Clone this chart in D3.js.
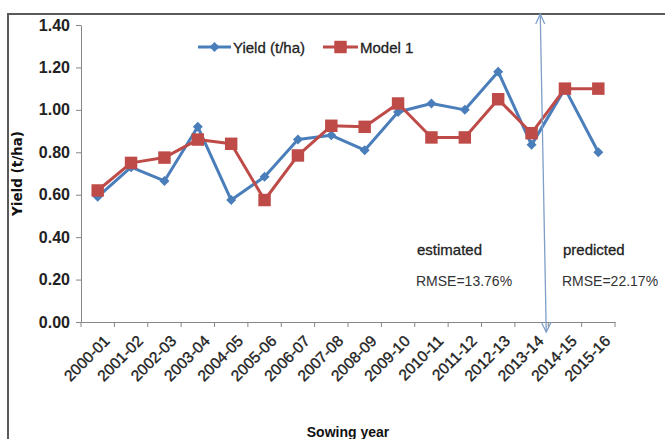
<!DOCTYPE html>
<html>
<head>
<meta charset="utf-8">
<script src="https://cdn.jsdelivr.net/npm/d3@7"></script>
<style>
  html, body { margin: 0; padding: 0; background: #ffffff; }
  svg { display: block; }
</style>
</head>
<body>
<script>
// ---- data ----
const categories = ["2000-01","2001-02","2002-03","2003-04","2004-05","2005-06","2006-07","2007-08",
                    "2008-09","2009-10","2010-11","2011-12","2012-13","2013-14","2014-15","2015-16"];
const yieldValues  = [0.59, 0.73, 0.665, 0.92, 0.575, 0.685, 0.86, 0.88, 0.81, 0.99, 1.03, 1.00, 1.18, 0.835, 1.10, 0.80];
const model1Values = [0.62, 0.75, 0.775, 0.86, 0.84, 0.575, 0.785, 0.925, 0.92, 1.03, 0.87, 0.87, 1.05, 0.89, 1.10, 1.10];
const yTickValues = [0, 0.2, 0.4, 0.6, 0.8, 1.0, 1.2, 1.4];
const seriesNames = ["Yield (t/ha)", "Model 1"];
const annotations = [
  { title: "estimated", rmse: "RMSE=13.76%" },
  { title: "predicted", rmse: "RMSE=22.17%" }
];
const splitAfter = "2013-14";

// ---- layout ----
const W = 665, H = 439;
const plot = { left: 81, right: 615, top: 25, bottom: 322 };
const blue = "#4a7ebb", red = "#be4b48", axisCol = "#868686";
const txtFont = "'Liberation Sans', Arial, sans-serif";

const svg = d3.select("body").append("svg").attr("width", W).attr("height", H);
svg.append("rect").attr("width", W).attr("height", H).attr("fill", "#fff");

// outer frame (top and left edges visible)
svg.append("path").attr("d", `M8,${H} V14 H${W}`).attr("fill", "none")
  .attr("stroke", "#5a5a5a").attr("stroke-width", 2);

const x = d3.scaleBand().domain(categories).range([plot.left, plot.right]).paddingInner(0).paddingOuter(0);
const y = d3.scaleLinear().domain([0, 1.4]).range([plot.bottom, plot.top]);
const cx = d => x(d) + x.bandwidth() / 2;

// y axis
const yAxis = d3.axisLeft(y).tickValues(yTickValues).tickFormat(d3.format(".2f"))
  .tickSizeInner(5).tickSizeOuter(0).tickPadding(6);
const gy = svg.append("g").attr("transform", `translate(${plot.left},0)`).call(yAxis);
gy.select(".domain").attr("stroke", axisCol);
gy.selectAll(".tick line").attr("stroke", axisCol);
gy.selectAll(".tick text").attr("font-family", txtFont).attr("font-size", 16)
  .attr("font-weight", "bold").attr("fill", "#222");

// x axis
const xAxis = d3.axisBottom(x).tickSize(0).tickFormat("");
const gx = svg.append("g").attr("transform", `translate(0,${plot.bottom})`).call(xAxis);
gx.select(".domain").attr("stroke", axisCol);
gx.selectAll(".tick").remove();
const boundaries = categories.map(c => x(c)).concat([x(categories[categories.length - 1]) + x.bandwidth()]);
gx.selectAll("line.bt").data(boundaries).join("line").attr("class", "bt")
  .attr("x1", d => d).attr("x2", d => d).attr("y1", 0).attr("y2", 5).attr("stroke", axisCol);
gx.selectAll("text.xl").data(categories).join("text").attr("class", "xl")
  .attr("transform", d => `translate(${cx(d) + 13},${20}) rotate(-45)`)
  .attr("text-anchor", "end")
  .attr("font-family", txtFont).attr("font-size", 15.5).attr("fill", "#222")
  .attr("stroke", "#222").attr("stroke-width", 0.35)
  .text(d => d);

// axis titles
svg.append("text").attr("transform", `translate(22,${(plot.top + plot.bottom) / 2}) rotate(-90)`)
  .attr("text-anchor", "middle").attr("font-family", "'DejaVu Sans', sans-serif")
  .attr("font-size", 13.5).attr("font-weight", "bold").attr("fill", "#111").text("Yield (t/ha)");
svg.append("text").attr("x", (plot.left + plot.right) / 2).attr("y", 437)
  .attr("text-anchor", "middle").attr("font-family", txtFont)
  .attr("font-size", 14).attr("font-weight", "bold").attr("fill", "#111").text("Sowing year");

// lines
const line = d3.line().x((d, i) => cx(categories[i])).y(d => y(d));
svg.append("path").datum(yieldValues).attr("d", line).attr("fill", "none")
  .attr("stroke", blue).attr("stroke-width", 3).attr("stroke-linejoin", "round");
svg.append("path").datum(model1Values).attr("d", line).attr("fill", "none")
  .attr("stroke", red).attr("stroke-width", 3).attr("stroke-linejoin", "round");

const diamond = d3.symbol().type(d3.symbolDiamond2).size(64);
const square = d3.symbol().type(d3.symbolSquare).size(155);

svg.append("g").selectAll("path").data(yieldValues).join("path")
  .attr("d", diamond).attr("transform", (d, i) => `translate(${cx(categories[i])},${y(d)})`)
  .attr("fill", blue);
svg.append("g").selectAll("path").data(model1Values).join("path")
  .attr("d", square).attr("transform", (d, i) => `translate(${cx(categories[i])},${y(d)})`)
  .attr("fill", red);

// legend
const legend = [
  { name: seriesNames[0], color: blue, sym: diamond, x0: 198, x1: 231, tx: 233 },
  { name: seriesNames[1], color: red, sym: square, x0: 323, x1: 358, tx: 360 }
];
const lg = svg.append("g");
legend.forEach(l => {
  lg.append("line").attr("x1", l.x0).attr("x2", l.x1).attr("y1", 47).attr("y2", 47)
    .attr("stroke", l.color).attr("stroke-width", 3);
  lg.append("path").attr("d", l.sym).attr("transform", `translate(${(l.x0 + l.x1) / 2},47)`).attr("fill", l.color);
  lg.append("text").attr("x", l.tx).attr("y", 52.5).attr("font-family", txtFont)
    .attr("font-size", 15).attr("fill", "#222").attr("stroke", "#222").attr("stroke-width", 0.3)
    .text(l.name);
});

// split arrow
const bx = x(splitAfter) + x.bandwidth();
const ax0 = bx - 8, ay0 = 14, ax1 = bx - 2, ay1 = 332;
const arrowCol = "#7f9fc9";
svg.append("line").attr("x1", ax0).attr("y1", ay0).attr("x2", ax1).attr("y2", ay1)
  .attr("stroke", arrowCol).attr("stroke-width", 1.3);
svg.append("path").attr("d", `M${ax0 - 4.5},${ay0 + 10} L${ax0},${ay0} L${ax0 + 4.5},${ay0 + 10}`)
  .attr("fill", "none").attr("stroke", arrowCol).attr("stroke-width", 1.3);
svg.append("path").attr("d", `M${ax1 - 5},${ay1 - 10} L${ax1},${ay1} L${ax1 + 5},${ay1 - 10}`)
  .attr("fill", "none").attr("stroke", arrowCol).attr("stroke-width", 1.3);

// annotations
const annX = [417, 563];
annotations.forEach((a, i) => {
  svg.append("text").attr("x", annX[i]).attr("y", 255).attr("font-family", txtFont)
    .attr("font-size", 15).attr("fill", "#222").attr("stroke", "#222").attr("stroke-width", 0.3)
    .text(a.title);
  svg.append("text").attr("x", annX[i] - 1).attr("y", 286).attr("font-family", txtFont)
    .attr("font-size", 14).attr("fill", "#333").text(a.rmse);
});
</script>
</body>
</html>
